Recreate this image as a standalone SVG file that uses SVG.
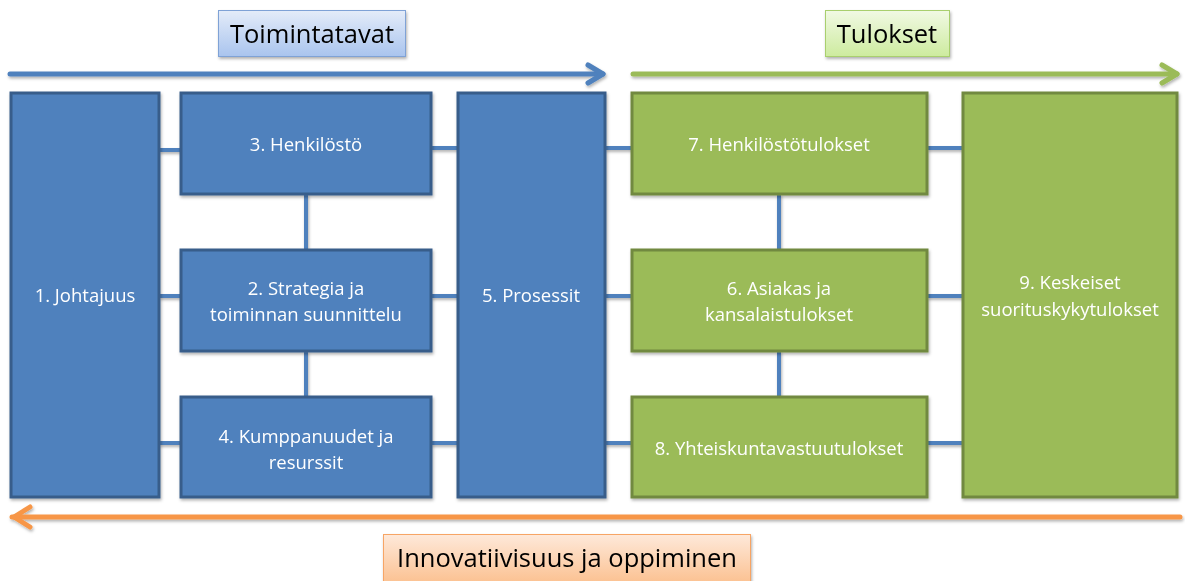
<svg xmlns="http://www.w3.org/2000/svg" width="1185" height="581" viewBox="0 0 1185 581">
<style>
.b{fill:#4F81BD;stroke:#385D8A;stroke-width:3}
.g{fill:#9BBB59;stroke:#71893F;stroke-width:3}
.t{font-family:"Open Sans","Liberation Sans",sans-serif;font-size:18.5px;fill:#fff;text-anchor:middle}
.lt{font-family:"Open Sans","Liberation Sans",sans-serif;font-size:25.5px;fill:#000;text-anchor:middle}
.c{stroke:#4F81BD;stroke-width:4;fill:none}
</style>
<defs>
<filter id="sh" x="-10%" y="-10%" width="130%" height="140%">
<feDropShadow dx="1" dy="2" stdDeviation="1.5" flood-color="#000" flood-opacity="0.3"/>
</filter>
<linearGradient id="gb" x1="0" y1="0" x2="0" y2="1"><stop offset="0" stop-color="#E4ECF9"/><stop offset="1" stop-color="#A9C4EE"/></linearGradient>
<linearGradient id="gg" x1="0" y1="0" x2="0" y2="1"><stop offset="0" stop-color="#F1F9E4"/><stop offset="1" stop-color="#CDEB9E"/></linearGradient>
<linearGradient id="go" x1="0" y1="0" x2="0" y2="1"><stop offset="0" stop-color="#FEE9DA"/><stop offset="1" stop-color="#FBC08F"/></linearGradient>
</defs>

<g id="label-toimintatavat" filter="url(#sh)">
<rect x="218.5" y="10.5" width="187" height="46" fill="url(#gb)" stroke="#7FA2D6" stroke-width="1"/>
<text class="lt" x="312" y="43">Toimintatavat</text>
</g>
<g id="label-tulokset" filter="url(#sh)">
<rect x="825.5" y="10.5" width="124" height="46" fill="url(#gg)" stroke="#A9CF6E" stroke-width="1"/>
<text class="lt" x="887" y="43">Tulokset</text>
</g>
<g id="label-innovatiivisuus" filter="url(#sh)">
<rect x="383.5" y="534.5" width="367" height="50" fill="url(#go)" stroke="#F7A565" stroke-width="1"/>
<text class="lt" x="567" y="567">Innovatiivisuus ja oppiminen</text>
</g>

<g id="arrows" fill="none" stroke-width="5" stroke-linecap="round" stroke-linejoin="round" filter="url(#sh)">
<g stroke="#4F81BD"><line x1="10" y1="74" x2="603" y2="74"/><polyline points="588,65 603,74 588,83"/></g>
<g stroke="#9BBB59"><line x1="633" y1="74" x2="1177" y2="74"/><polyline points="1162,65 1177,74 1162,83"/></g>
<g stroke="#F79646"><line x1="1180" y1="517" x2="12" y2="517"/><polyline points="30,507 14,517 30,527"/></g>
</g>

<g id="connectors" class="c" filter="url(#sh)">
<line x1="159" y1="150" x2="181" y2="150"/>
<line x1="159" y1="296" x2="181" y2="296"/>
<line x1="159" y1="443" x2="181" y2="443"/>
<line x1="431" y1="148" x2="458" y2="148"/>
<line x1="431" y1="296" x2="458" y2="296"/>
<line x1="431" y1="443" x2="458" y2="443"/>
<line x1="605" y1="148" x2="632" y2="148"/>
<line x1="605" y1="296" x2="632" y2="296"/>
<line x1="605" y1="443" x2="632" y2="443"/>
<line x1="927" y1="148" x2="963" y2="148"/>
<line x1="927" y1="296" x2="963" y2="296"/>
<line x1="927" y1="443" x2="963" y2="443"/>
<line x1="306" y1="194" x2="306" y2="250"/>
<line x1="306" y1="351" x2="306" y2="397"/>
<line x1="779" y1="194" x2="779" y2="250"/>
<line x1="779" y1="351" x2="779" y2="397"/>
</g>

<g id="n1" filter="url(#sh)"><rect class="b" x="11" y="93" width="148" height="404"/><text class="t" x="85" y="302">1. Johtajuus</text></g>
<g id="n3" filter="url(#sh)"><rect class="b" x="181" y="93" width="250" height="101"/><text class="t" x="306" y="151">3. Henkilöstö</text></g>
<g id="n2" filter="url(#sh)"><rect class="b" x="181" y="250" width="250" height="101"/><text class="t" x="306" y="295">2. Strategia ja</text><text class="t" x="306" y="321">toiminnan suunnittelu</text></g>
<g id="n4" filter="url(#sh)"><rect class="b" x="181" y="397" width="250" height="100"/><text class="t" x="306" y="443">4. Kumppanuudet ja</text><text class="t" x="306" y="469">resurssit</text></g>
<g id="n5" filter="url(#sh)"><rect class="b" x="458" y="93" width="147" height="404"/><text class="t" x="531" y="302">5. Prosessit</text></g>
<g id="n7" filter="url(#sh)"><rect class="g" x="632" y="93" width="295" height="101"/><text class="t" x="779" y="151">7. Henkilöstötulokset</text></g>
<g id="n6" filter="url(#sh)"><rect class="g" x="632" y="250" width="295" height="101"/><text class="t" x="779" y="295">6. Asiakas ja</text><text class="t" x="779" y="321">kansalaistulokset</text></g>
<g id="n8" filter="url(#sh)"><rect class="g" x="632" y="397" width="295" height="100"/><text class="t" x="779" y="455">8. Yhteiskuntavastuutulokset</text></g>
<g id="n9" filter="url(#sh)"><rect class="g" x="963" y="93" width="214" height="404"/><text class="t" x="1070" y="289">9. Keskeiset</text><text class="t" x="1070" y="316">suorituskykytulokset</text></g>
</svg>
